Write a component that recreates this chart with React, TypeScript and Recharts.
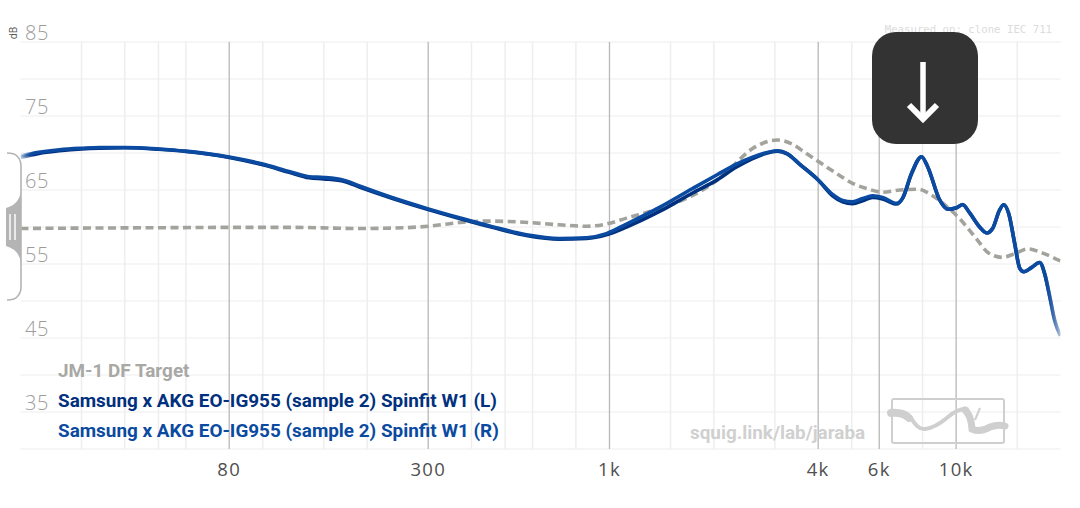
import { LineChart, Line, XAxis, YAxis, ReferenceLine } from "recharts";

// frequency response (Hz / dB)
const leftFreqs = [20, 22.6, 25.9, 30, 33.7, 40, 50, 60, 80, 100, 119, 136, 150, 172, 190, 237, 300, 369, 459, 576, 717, 859, 980, 1120, 1394, 1736, 2050, 2325, 2587, 2765, 3053, 3264, 3534, 4000, 4401, 4704, 5027, 5373, 5743, 6135, 6735, 7010, 7438, 7950, 8275, 8962, 9451, 10030, 10440, 10940, 11690, 12250, 12740, 13350, 13710, 14170, 14750, 15250, 15670, 16520, 17420, 18000, 18620, 19240, 20000];
const leftDb = [69.4, 69.95, 70.3, 70.55, 70.65, 70.7, 70.5, 70.2, 69.4, 68.4, 67.4, 66.65, 66.5, 66.15, 65.4, 63.85, 62.35, 61.15, 59.95, 58.85, 58.35, 58.45, 58.95, 60.0, 62.1, 64.6, 66.4, 68.1, 69.25, 69.8, 70.25, 69.85, 68.5, 66.35, 64.2, 63.4, 63.15, 63.55, 64.0, 63.8, 63.1, 63.9, 67.2, 69.5, 68.15, 63.65, 62.4, 62.6, 63.0, 61.9, 60.0, 59.2, 59.8, 62.3, 63.0, 61.85, 57.8, 54.45, 53.95, 54.55, 55.2, 53.7, 50.6, 47.4, 45.3];
const rightDb = [69.6, 70.1, 70.45, 70.65, 70.75, 70.75, 70.55, 70.25, 69.45, 68.5, 67.5, 66.8, 66.7, 66.3, 65.55, 63.95, 62.45, 61.25, 60.05, 58.95, 58.45, 58.55, 59.1, 60.4, 62.65, 65.2, 67.1, 68.5, 69.45, 69.9, 70.3, 69.9, 68.5, 66.35, 64.4, 63.6, 63.4, 63.85, 64.2, 64.0, 63.2, 63.9, 67.3, 69.5, 68.15, 63.65, 62.4, 62.6, 63.05, 61.9, 60.0, 59.2, 59.8, 62.3, 63.0, 61.85, 57.8, 54.45, 53.95, 54.55, 55.2, 53.7, 50.6, 47.4, 45.3];

const targetFreqs = [20, 30, 50, 80, 120, 190, 237, 300, 369, 436, 540, 717, 859, 980, 1120, 1350, 1690, 2000, 2240, 2587, 3053, 3330, 3710, 4110, 4600, 5027, 5520, 6135, 6880, 7750, 8500, 9400, 10200, 11400, 12400, 13600, 14750, 16100, 17700, 20000];
const targetDb = [59.8, 59.85, 59.9, 59.95, 59.95, 59.8, 59.85, 60.1, 60.6, 60.8, 60.7, 60.3, 60.1, 60.4, 61.2, 62.3, 64.0, 66.0, 68.0, 70.6, 71.75, 71.3, 69.9, 68.5, 67.0, 65.9, 65.2, 64.7, 65.0, 65.1, 64.3, 62.75, 61.2, 58.5, 56.5, 55.9, 56.4, 57.05, 56.5, 55.4];

const leftRows = leftFreqs.map((freq, i) => ({ freq, db: leftDb[i] }));
const rightRows = leftFreqs.map((freq, i) => ({ freq, db: rightDb[i] }));
const targetRows = targetFreqs.map((freq, i) => ({ freq, db: targetDb[i] }));

const xLabels = [80, 300, 1000, 4000, 6000, 10000];
const xMinorLines = [30, 40, 50, 60, 100, 150, 200, 400, 500, 600, 800, 1500, 2000, 3000, 5000, 8000, 15000];
const yLabels = [85, 75, 65, 55, 45, 35];
const yLines = [85, 80, 75, 70, 65, 60, 55, 50, 45, 40, 35, 30];

const targetName = "JM-1 DF Target";
const leftName = "Samsung x AKG EO-IG955 (sample 2) Spinfit W1 (L)";
const rightName = "Samsung x AKG EO-IG955 (sample 2) Spinfit W1 (R)";

const labelFont = "'Open Sans', sans-serif";
const legendFont = "Roboto, sans-serif";

const formatFreq = (v: number) => (v >= 1000 ? `${v / 1000}k` : `${v}`);

const YTick = ({ y, payload }: any) => (
  <text x={25} y={y - 2} fontFamily={labelFont} fontSize={20} fontWeight={300} fill="#9c9c9c" letterSpacing={0.6}>
    {payload.value}
  </text>
);

const Fade = ({ id, color }: { id: string; color: string }) => (
  <linearGradient id={id} x1="0" y1="0" x2="1" y2="0">
    <stop offset="0" stopColor={color} stopOpacity={0.15} />
    <stop offset="0.012" stopColor={color} />
    <stop offset="0.984" stopColor={color} />
    <stop offset="1" stopColor={color} stopOpacity={0.15} />
  </linearGradient>
);

export default function App() {
  return (
    <div style={{ position: "absolute", left: 0, top: 0, width: 1080, height: 508, background: "#fff" }}>
      <LineChart width={1080} height={508} margin={{ top: 42, right: 19.5, bottom: 0, left: 0 }}>
        <defs>
          <Fade id="fadeL" color="#00307e" />
          <Fade id="fadeR" color="#0a4aa0" />
        </defs>

        <XAxis
          dataKey="freq"
          type="number"
          scale="log"
          domain={[20, 20000]}
          ticks={xLabels}
          interval={0}
          height={59}
          tickFormatter={formatFreq}
          axisLine={false}
          tickLine={false}
          tickMargin={8}
          tick={{ fontFamily: labelFont, fontSize: 18.5, fill: "#4f4f4f", letterSpacing: 1.3 }}
          allowDataOverflow
        />
        <YAxis type="number" domain={[30, 85]} ticks={yLabels} interval={0} width={20.5} axisLine={false} tickLine={false} tick={<YTick />} />

        {yLines.map((v) => (
          <ReferenceLine key={v} y={v} stroke="#f6f6f6" strokeWidth={2} />
        ))}
        {xMinorLines.map((v) => (
          <ReferenceLine key={v} x={v} stroke="#eeeeee" strokeWidth={1.5} />
        ))}
        {xLabels.map((v) => (
          <ReferenceLine key={v} x={v} stroke="#b8b8b8" strokeWidth={1.3} />
        ))}

        <Line data={targetRows} dataKey="db" name={targetName} type="monotone" stroke="#a3a39e" strokeWidth={3.6} strokeDasharray="8 4.5" dot={false} activeDot={false} isAnimationActive={false} />
        <Line data={leftRows} dataKey="db" name={leftName} type="monotone" stroke="url(#fadeL)" strokeWidth={3.6} dot={false} activeDot={false} isAnimationActive={false} />
        <Line data={rightRows} dataKey="db" name={rightName} type="monotone" stroke="url(#fadeR)" strokeWidth={3.6} dot={false} activeDot={false} isAnimationActive={false} />
      </LineChart>

      {/* everything squiglink paints on top of the plot */}
      <svg width={1080} height={508} style={{ position: "absolute", left: 0, top: 0, pointerEvents: "none" }}>
        <text x={17} y={33} transform="rotate(-90 17 33)" textAnchor="middle" fontFamily="'Open Sans', sans-serif" fontSize={10} fill="#555">dB</text>

        {/* y scaler handle */}
        <path d="M7 153 Q14 153 17 156 Q21 160 21 166 L21 287 Q21 293 17 297 Q14 300 7 300" fill="none" stroke="#b4b4b4" strokeWidth={1.6} />
        <path d="M21 190 Q20 204 6 208 L6 246 Q20 250 21 264 Z" fill="#b4b4b4" />
        <rect x={9} y={214} width={2} height={26} fill="#fff" opacity={0.7} />
        <rect x={14} y={214} width={2} height={26} fill="#fff" opacity={0.7} />

        <text x={1052} y={33} textAnchor="end" fontFamily="'DejaVu Sans Mono', monospace" fontSize={10.7} fill="#dcdcdc">Measured on: clone IEC 711</text>

        <text x={58} y={377} fontFamily={legendFont} fontSize={18.9} fontWeight={700} fill="#a8a8a4">{targetName}</text>
        <text x={58} y={407} fontFamily={legendFont} fontSize={18.9} fontWeight={700} fill="#00307e">{leftName}</text>
        <text x={58} y={437} fontFamily={legendFont} fontSize={18.9} fontWeight={700} fill="#0a4aa0">{rightName}</text>

        <text x={690} y={439} fontFamily={legendFont} fontSize={18.9} fontWeight={700} fill="#d0d0d0">squig.link/lab/jaraba</text>
        <rect x={892} y={399} width={112} height={44} rx={2} fill="none" stroke="#cfcfcf" strokeWidth={2} />
        <path d="M893 413 Q905 412 911 418 Q918 430 925 429 Q935 428 948 417 Q958 408 967 409" fill="none" stroke="#cfcfcf" strokeWidth={4} strokeLinecap="round" />
        <path d="M891 413 Q903 412 909 418" fill="none" stroke="#cfcfcf" strokeWidth={8} strokeLinecap="round" />
        <path d="M965 410 Q971 415 972 429 Q980 433 990 427 Q998 424 1005 426" fill="none" stroke="#cfcfcf" strokeWidth={7} strokeLinecap="round" />
        <path d="M980 408 L975 420" fill="none" stroke="#cfcfcf" strokeWidth={2} />

        {/* download badge */}
        <rect x={872} y={32} width={106} height={112} rx={24} fill="#333" />
        <path d="M923 62 L923 118" stroke="#fff" strokeWidth={5.5} fill="none" />
        <path d="M909 105 L923 119 L937 105" stroke="#fff" strokeWidth={6} fill="none" />
      </svg>
    </div>
  );
}
